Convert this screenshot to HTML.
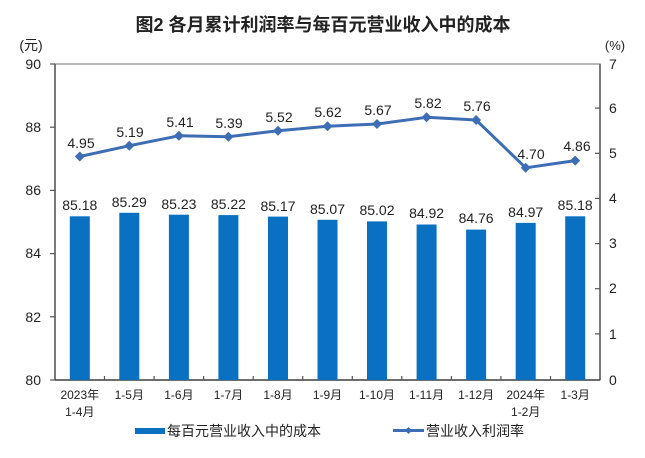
<!DOCTYPE html>
<html><head><meta charset="utf-8"><style>
html,body{margin:0;padding:0;background:#fff;}
svg{display:block;}
text{font-family:"Liberation Sans","Noto Sans CJK SC",sans-serif;fill:#222;}
</style></head><body>
<svg width="645" height="458" viewBox="0 0 645 458" xmlns="http://www.w3.org/2000/svg">
<rect width="645" height="458" fill="#fff"/>
<text x="323" y="31" text-anchor="middle" font-size="18" font-weight="bold" style="font-family:'Liberation Sans','Noto Sans CJK SC',sans-serif">图2  各月累计利润率与每百元营业收入中的成本</text>
<text x="31" y="50" text-anchor="middle" font-size="14">(元)</text>
<text x="615" y="50" text-anchor="middle" font-size="13">(%)</text>
<!-- plot box -->
<rect x="55" y="64" width="545" height="316" fill="none" stroke="#8a8a8a" stroke-width="1.2"/>
<line x1="55" y1="64" x2="55" y2="380" stroke="#555" stroke-width="1.5"/>
<line x1="600" y1="64" x2="600" y2="380" stroke="#555" stroke-width="1.5"/>
<line x1="55" y1="380" x2="600" y2="380" stroke="#444" stroke-width="1.5"/>
<!-- left ticks -->
<g stroke="#555" stroke-width="1.2">
<line x1="50" y1="64" x2="55" y2="64"/><line x1="50" y1="127.2" x2="55" y2="127.2"/><line x1="50" y1="190.4" x2="55" y2="190.4"/><line x1="50" y1="253.6" x2="55" y2="253.6"/><line x1="50" y1="316.8" x2="55" y2="316.8"/><line x1="50" y1="380" x2="55" y2="380"/>
<line x1="595" y1="108.1" x2="600" y2="108.1"/><line x1="595" y1="153.3" x2="600" y2="153.3"/><line x1="595" y1="198.4" x2="600" y2="198.4"/><line x1="595" y1="243.6" x2="600" y2="243.6"/><line x1="595" y1="288.7" x2="600" y2="288.7"/><line x1="595" y1="333.9" x2="600" y2="333.9"/>
<line x1="104.5" y1="376" x2="104.5" y2="380"/><line x1="154.1" y1="376" x2="154.1" y2="380"/><line x1="203.6" y1="376" x2="203.6" y2="380"/><line x1="253.2" y1="376" x2="253.2" y2="380"/><line x1="302.7" y1="376" x2="302.7" y2="380"/><line x1="352.3" y1="376" x2="352.3" y2="380"/><line x1="401.8" y1="376" x2="401.8" y2="380"/><line x1="451.4" y1="376" x2="451.4" y2="380"/><line x1="500.9" y1="376" x2="500.9" y2="380"/><line x1="550.5" y1="376" x2="550.5" y2="380"/>
</g>
<g font-size="14" text-anchor="end">
<text x="41" y="69">90</text><text x="41" y="132">88</text><text x="41" y="195">86</text><text x="41" y="258">84</text><text x="41" y="322">82</text><text x="41" y="385">80</text>
</g>
<g font-size="14" text-anchor="start">
<text x="609" y="69">7</text><text x="609" y="113">6</text><text x="609" y="158">5</text><text x="609" y="203">4</text><text x="609" y="248">3</text><text x="609" y="293">2</text><text x="609" y="339">1</text><text x="609" y="385">0</text>
</g>
<!-- bars -->
<g fill="#0a70c2">
<rect x="69.8" y="216.3" width="20" height="163.7"/>
<rect x="119.3" y="212.8" width="20" height="167.2"/>
<rect x="168.9" y="214.7" width="20" height="165.3"/>
<rect x="218.4" y="215.1" width="20" height="164.9"/>
<rect x="268" y="216.6" width="20" height="163.4"/>
<rect x="317.5" y="219.8" width="20" height="160.2"/>
<rect x="367" y="221.4" width="20" height="158.6"/>
<rect x="416.6" y="224.5" width="20" height="155.5"/>
<rect x="466.1" y="229.6" width="20" height="150.4"/>
<rect x="515.7" y="222.9" width="20" height="157.1"/>
<rect x="565.2" y="216.3" width="20" height="163.7"/>
</g>
<g font-size="14" text-anchor="middle">
<text x="79.8" y="210">85.18</text>
<text x="129.3" y="207">85.29</text>
<text x="178.9" y="209">85.23</text>
<text x="228.4" y="209">85.22</text>
<text x="278" y="211">85.17</text>
<text x="327.5" y="214">85.07</text>
<text x="377" y="215">85.02</text>
<text x="426.6" y="218">84.92</text>
<text x="476.1" y="223">84.76</text>
<text x="525.7" y="217">84.97</text>
<text x="575.2" y="210">85.18</text>
</g>
<!-- line -->
<polyline fill="none" stroke="#3d6db5" stroke-width="3" stroke-linejoin="round" points="79.8,156.5 129.3,145.7 178.9,135.8 228.4,136.7 278,130.8 327.5,126.3 377,124 426.6,117.3 476.1,120 525.7,167.8 575.2,160.6"/>
<g fill="#3d6db5">
<path d="M79.8 151.5l5 5-5 5-5-5z"/><path d="M129.3 140.7l5 5-5 5-5-5z"/><path d="M178.9 130.8l5 5-5 5-5-5z"/><path d="M228.4 131.7l5 5-5 5-5-5z"/><path d="M278 125.8l5 5-5 5-5-5z"/><path d="M327.5 121.3l5 5-5 5-5-5z"/><path d="M377 119l5 5-5 5-5-5z"/><path d="M426.6 112.3l5 5-5 5-5-5z"/><path d="M476.1 115l5 5-5 5-5-5z"/><path d="M525.7 162.8l5 5-5 5-5-5z"/><path d="M575.2 155.6l5 5-5 5-5-5z"/>
</g>
<g font-size="14" text-anchor="middle">
<text x="81" y="148">4.95</text>
<text x="130" y="137">5.19</text>
<text x="180" y="127">5.41</text>
<text x="229" y="128">5.39</text>
<text x="279" y="122">5.52</text>
<text x="328" y="117">5.62</text>
<text x="378" y="115">5.67</text>
<text x="428" y="108">5.82</text>
<text x="477" y="111">5.76</text>
<text x="531" y="159">4.70</text>
<text x="577" y="151">4.86</text>
</g>
<!-- x labels -->
<g font-size="12" text-anchor="middle" style="font-family:'Liberation Sans','Noto Sans CJK SC',sans-serif">
<text x="79.8" y="399">2023年</text><text x="79.8" y="416">1-4月</text>
<text x="129.3" y="399">1-5月</text>
<text x="178.9" y="399">1-6月</text>
<text x="228.4" y="399">1-7月</text>
<text x="278" y="399">1-8月</text>
<text x="327.5" y="399">1-9月</text>
<text x="377" y="399">1-10月</text>
<text x="426.6" y="399">1-11月</text>
<text x="476.1" y="399">1-12月</text>
<text x="525.7" y="399">2024年</text><text x="525.7" y="416">1-2月</text>
<text x="575.2" y="399">1-3月</text>
</g>
<!-- legend -->
<rect x="135" y="428" width="30" height="6" fill="#0a70c2"/>
<text x="167" y="436" font-size="14">每百元营业收入中的成本</text>
<line x1="393" y1="430.5" x2="424" y2="430.5" stroke="#3d6db5" stroke-width="3"/>
<path d="M408.5 427l3.5 3.5-3.5 3.5-3.5-3.5z" fill="#3d6db5"/>
<text x="426" y="436" font-size="14">营业收入利润率</text>
</svg>
</body></html>
